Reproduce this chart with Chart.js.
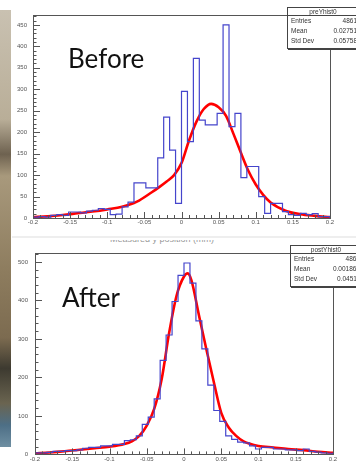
<!DOCTYPE html>
<html lang="en">
<head>
<meta charset="UTF-8">
<title>Before / After</title>
<script src="https://cdn.jsdelivr.net/npm/chart.js"></script>
<style>
    body {
        margin: 0;
        width: 356px;
        height: 465px;
        overflow: hidden;
        position: relative;
        background: #fff;
        font-family: 'Liberation Sans', Arial, sans-serif;
    }
    canvas { position: absolute; left: 0; }
    #preChart { top: 0; }
    #postChart { top: 232px; }
    .strip {
        position: absolute;
        left: 0; top: 10px;
        width: 11px; height: 437px;
        background: linear-gradient(to bottom, #c9c1b1 0%, #b9ae98 25%, #6e6250 33%, #a8997c 38%, #8d7c5e 60%, #7c6b50 75%, #3d3a30 82%, #6a6450 90%, #4d6f86 95%, #6f8fa2 100%);
    }
    .band {
        position: absolute;
        left: 12px; top: 236px;
        width: 344px; height: 2px;
        background: #eeeeee;
    }
    .axis-title {
        position: absolute;
        left: 110px; top: 240px;
        width: 160px; height: 4px;
        overflow: hidden;
    }
    .axis-title span {
        position: absolute;
        top: -6px; left: 0;
        font-size: 9px;
        color: #999;
        white-space: nowrap;
    }
    .big {
        position: absolute;
        font-family: Lato, 'Open Sans', sans-serif;
        font-size: 26px;
        line-height: 26px;
        color: #111;
        z-index: 3;
    }
    .stats {
        position: absolute;
        width: 70px;
        height: 40px;
        border: 1px solid #444;
        box-shadow: 1px 1px 0 #444;
        background: #fff;
        z-index: 4;
        font-size: 6.5px;
        color: #333;
    }
    .stats .title {
        height: 7px;
        line-height: 7px;
        text-align: center;
        border-bottom: 1px solid #444;
    }
    .stats .row {
        display: flex;
        justify-content: space-between;
        height: 10px;
        line-height: 10px;
        padding: 0 1px 0 3px;
    }
</style>
</head>
<body>
    <div class="strip"></div>
    <div class="band"></div>
    <div class="axis-title"><span>Measured y position (mm)</span></div>

    <canvas id="preChart" width="356" height="232"></canvas>
    <canvas id="postChart" width="356" height="233"></canvas>

    <div class="big" style="left:68px; top:45px;">Before</div>
    <div class="big" style="left:62px; top:284px;">After</div>

    <div class="stats" style="left:287px; top:7px;">
        <div class="title">preYhist0</div>
        <div class="row"><span>Entries</span><span>4861</span></div>
        <div class="row"><span>Mean</span><span>0.02751</span></div>
        <div class="row"><span>Std Dev</span><span>0.05758</span></div>
    </div>
    <div class="stats" style="left:290px; top:245px;">
        <div class="title">postYhist0</div>
        <div class="row"><span>Entries</span><span>4868</span></div>
        <div class="row"><span>Mean</span><span>0.001866</span></div>
        <div class="row"><span>Std Dev</span><span>0.04511</span></div>
    </div>

<script>
// binning: 50 bins from -0.2 to 0.2
const binLow = -0.2;
const binWidth = 0.008;

// bin contents
const preCounts = [2, 3, 2, 6, 8, 6, 14, 14, 12, 16,
                   18, 22, 20, 8, 9, 26, 37, 82, 82, 70,
                   70, 140, 235, 158, 34, 295, 178, 372, 228, 217,
                   217, 244, 450, 213, 244, 94, 120, 120, 50, 11,
                   34, 34, 15, 8, 6, 11, 8, 10, 3, 3];
const postCounts = [4, 4, 5, 8, 8, 10, 10, 12, 16, 18,
                    18, 22, 22, 26, 26, 36, 38, 48, 78, 97,
                    144, 244, 310, 397, 465, 497, 445, 347, 274, 180,
                    114, 86, 48, 39, 32, 30, 22, 14, 18, 18,
                    14, 14, 12, 12, 10, 14, 8, 6, 4, 3];

// red fit curves
const preFitX = [-0.2, -0.18, -0.16, -0.14, -0.12, -0.1, -0.08, -0.06, -0.04, -0.03, -0.02, -0.01,
                 0, 0.01, 0.02, 0.03, 0.04, 0.05, 0.06, 0.07, 0.08, 0.09, 0.1, 0.11, 0.12, 0.14, 0.16, 0.18, 0.2];
const preFitY = [2, 4, 7, 11, 15, 20, 26, 38, 60, 72, 85, 100,
                 128, 180, 224, 254, 266, 258, 238, 196, 152, 110, 78, 54, 36, 17, 9, 5, 2];
const postFitX = [-0.2, -0.18, -0.16, -0.14, -0.12, -0.1, -0.08, -0.07, -0.06, -0.05, -0.04, -0.03, -0.02, -0.01,
                  0, 0.005, 0.01, 0.02, 0.03, 0.04, 0.05, 0.06, 0.07, 0.08, 0.1, 0.12, 0.14, 0.16, 0.18, 0.2];
const postFitY = [3, 5, 8, 12, 16, 20, 27, 34, 48, 75, 118, 195, 315, 412,
                  462, 470, 452, 362, 273, 188, 108, 70, 48, 34, 22, 18, 14, 11, 7, 4];

// axis labels
const xTickValues = [-0.2, -0.15, -0.1, -0.05, 0, 0.05, 0.1, 0.15, 0.2];
const xTickLabels = ['-0.2', '-0.15', '-0.1', '-0.05', '0', '0.05', '0.1', '0.15', '0.2'];
const preYTicks = [0, 50, 100, 150, 200, 250, 300, 350, 400, 450];
const postYTicks = [0, 100, 200, 300, 400, 500];

function histPoints(counts) {
    const pts = [{x: binLow, y: 0}];
    counts.forEach((c, i) => pts.push({x: binLow + i * binWidth, y: c}));
    pts.push({x: binLow + counts.length * binWidth, y: 0});
    return pts;
}

// ROOT style frame with inner tick marks
const rootFrame = {
    id: 'rootFrame',
    afterDatasetsDraw(chart, args, opts) {
        const {ctx, chartArea: a, scales: {x, y}} = chart;
        ctx.save();
        ctx.strokeStyle = '#555';
        ctx.lineWidth = 1;
        ctx.beginPath();
        const nY = Math.floor(y.max / opts.yMinor);
        for (let k = 0; k <= nY; k++) {
            const py = Math.round(y.getPixelForValue(k * opts.yMinor)) + 0.5;
            const len = (k % 5 === 0) ? 7 : 3.5;
            ctx.moveTo(a.left, py);
            ctx.lineTo(a.left + len, py);
        }
        for (let k = 0; k <= 40; k++) {
            const px = Math.round(x.getPixelForValue(-0.2 + k * 0.01)) + 0.5;
            const len = (k % 5 === 0) ? 6 : 3;
            ctx.moveTo(px, a.bottom);
            ctx.lineTo(px, a.bottom - len);
        }
        ctx.stroke();
        ctx.strokeRect(Math.round(a.left) + 0.5, Math.round(a.top) + 0.5,
                       Math.round(a.right - a.left), Math.round(a.bottom - a.top));
        ctx.restore();
    }
};

function makeChart(id, counts, fitX, fitY, yMax, yTicks, yMinor, pad, yWidth, xHeight, yPad) {
    return new Chart(document.getElementById(id), {
        type: 'line',
        data: {
            datasets: [{
                data: histPoints(counts),
                stepped: 'before',
                borderColor: '#4545cc',
                borderWidth: 1.2,
                pointRadius: 0,
                fill: false
            }, {
                data: fitX.map((v, i) => ({x: v, y: fitY[i]})),
                borderColor: '#ff0000',
                borderWidth: 2.6,
                pointRadius: 0,
                cubicInterpolationMode: 'monotone',
                fill: false
            }]
        },
        options: {
            responsive: false,
            animation: false,
            devicePixelRatio: 1,
            layout: {padding: pad},
            plugins: {
                legend: {display: false},
                tooltip: {enabled: false},
                rootFrame: {yMinor: yMinor}
            },
            scales: {
                x: {
                    type: 'linear',
                    min: -0.2,
                    max: 0.2,
                    grid: {display: false, drawTicks: false},
                    border: {display: false},
                    afterBuildTicks: (s) => { s.ticks = xTickValues.map(v => ({value: v})); },
                    afterFit: (s) => { s.height = xHeight; },
                    ticks: {
                        padding: 1,
                        maxRotation: 0,
                        autoSkip: false,
                        color: '#555',
                        font: {family: 'Liberation Sans', size: 6},
                        callback: (v, i) => xTickLabels[i]
                    }
                },
                y: {
                    type: 'linear',
                    min: 0,
                    max: yMax,
                    grid: {display: false, drawTicks: false},
                    border: {display: false},
                    afterBuildTicks: (s) => { s.ticks = yTicks.map(v => ({value: v})); },
                    afterFit: (s) => { s.width = yWidth; },
                    ticks: {
                        padding: yPad,
                        autoSkip: false,
                        color: '#555',
                        font: {family: 'Liberation Sans', size: 6},
                        callback: (v) => String(v)
                    }
                }
            }
        },
        plugins: [rootFrame]
    });
}

makeChart('preChart', preCounts, preFitX, preFitY, 473, preYTicks, 10,
          {left: 0, right: 26, top: 15, bottom: 0}, 33, 14, 6);
makeChart('postChart', postCounts, postFitX, postFitY, 523, postYTicks, 20,
          {left: 0, right: 23, top: 21, bottom: 0}, 35, 8, 7);
</script>
</body>
</html>
